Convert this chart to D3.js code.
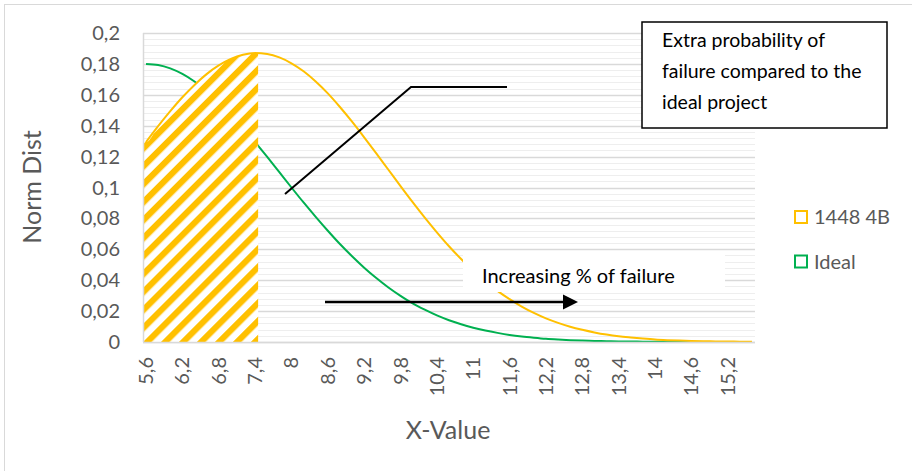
<!DOCTYPE html>
<html>
<head>
<meta charset="utf-8">
<script src="https://cdn.jsdelivr.net/npm/d3@7"></script>
<style>
  html, body { margin: 0; padding: 0; background: #fff; }
  svg { display: block; }
  text { font-family: Lato, "Open Sans", sans-serif; }
</style>
</head>
<body>
<svg id="chart" width="912" height="471"></svg>
<script>
// X values of the sampled curves (step 0.2)
const xValues = d3.range(0, 51).map(i => +(5.6 + i * 0.2).toFixed(1));

// Norm Dist of project "1448 4B"
const series1448 = [
  0.1294, 0.1397, 0.1494, 0.1584, 0.1664, 0.1734, 0.1790, 0.1832, 0.1859, 0.1870,
  0.1864, 0.1842, 0.1804, 0.1752, 0.1686, 0.1609, 0.1521, 0.1426, 0.1325, 0.1221,
  0.1115, 0.1009, 0.0905, 0.0805, 0.0710, 0.0620, 0.0537, 0.0461, 0.0392, 0.0331,
  0.0277, 0.0229, 0.0188, 0.0153, 0.0124, 0.0099, 0.0079, 0.0062, 0.0048, 0.0037,
  0.0029, 0.0022, 0.0016, 0.0012, 0.0009, 0.0007, 0.0005, 0.0004, 0.0003, 0.0002,
  0.0001
];

// Norm Dist of the ideal project (sampled up to 14.6)
const seriesIdeal = [
  0.1800, 0.1793, 0.1771, 0.1735, 0.1686, 0.1626, 0.1555, 0.1474, 0.1387, 0.1294,
  0.1198, 0.1099, 0.1000, 0.0903, 0.0810, 0.0720, 0.0634, 0.0555, 0.0481, 0.0414,
  0.0353, 0.0299, 0.0250, 0.0209, 0.0172, 0.0141, 0.0115, 0.0092, 0.0074, 0.0059,
  0.0046, 0.0036, 0.0028, 0.0021, 0.0016, 0.0012, 0.0009, 0.0007, 0.0005, 0.0004,
  0.0003, 0.0002, 0.0001, 0.0001, 0.0001, 0.0000
];

// Shaded range under the 1448 4B curve
const shadedRange = [5.55, 7.45];

// Axis tick labels
const xTickValues = [5.6, 6.2, 6.8, 7.4, 8, 8.6, 9.2, 9.8, 10.4, 11, 11.6, 12.2, 12.8, 13.4, 14, 14.6, 15.2];
const yTickValues = [0, 0.02, 0.04, 0.06, 0.08, 0.1, 0.12, 0.14, 0.16, 0.18, 0.2];

const seriesNames = ["1448 4B", "Ideal"];
const seriesColors = ["#FFC000", "#00B050"];

const svg = d3.select("#chart");
const plot = { left: 143, right: 755, top: 33, bottom: 342 };

const x = d3.scaleLinear().domain([5.55, 15.65]).range([plot.left, plot.right]);
const y = d3.scaleLinear().domain([0, 0.2]).range([plot.bottom, plot.top]);
const fmt = v => String(v).replace(".", ",");

// outer chart frame
svg.append("rect")
  .attr("x", 4.5).attr("y", 4.5).attr("width", 940).attr("height", 500)
  .attr("fill", "#fff").attr("stroke", "#d9d9d9").attr("stroke-width", 1);

// gridlines: minor every 0.004, major every 0.02
const minor = d3.range(0, 51).map(i => +(i * 0.004).toFixed(3));
svg.append("g").selectAll("line").data(minor).join("line")
  .attr("x1", plot.left).attr("x2", plot.right)
  .attr("y1", d => Math.round(y(d)) + 0.5).attr("y2", d => Math.round(y(d)) + 0.5)
  .attr("stroke", "#eeeeee").attr("stroke-width", 1);
svg.append("g").selectAll("line").data(yTickValues).join("line")
  .attr("x1", plot.left).attr("x2", plot.right)
  .attr("y1", d => Math.round(y(d)) + 0.5).attr("y2", d => Math.round(y(d)) + 0.5)
  .attr("stroke", "#d9d9d9").attr("stroke-width", 1.5);

// hatch pattern
const defs = svg.append("defs");
const pat = defs.append("pattern")
  .attr("id", "hatch").attr("patternUnits", "userSpaceOnUse")
  .attr("width", 12.7).attr("height", 12.7)
  .attr("patternTransform", "rotate(45)");
pat.append("rect").attr("width", 12.7).attr("height", 12.7).attr("fill", "#fff");
pat.append("rect").attr("width", 6.2).attr("height", 12.7).attr("fill", "#FFC000");

defs.append("clipPath").attr("id", "shadeClip")
  .append("rect")
  .attr("x", x(shadedRange[0])).attr("y", plot.top - 10)
  .attr("width", x(shadedRange[1]) - x(shadedRange[0]))
  .attr("height", plot.bottom - plot.top + 10);

const pts1448 = xValues.map((v, i) => [v, series1448[i]]);
const ptsIdeal = seriesIdeal.map((v, i) => [xValues[i], v]);

const line = d3.line().x(d => x(d[0])).y(d => y(d[1])).curve(d3.curveMonotoneX);
const area = d3.area().x(d => x(d[0])).y0(y(0)).y1(d => y(d[1])).curve(d3.curveMonotoneX);

// Ideal curve
svg.append("path").datum(ptsIdeal)
  .attr("d", line).attr("fill", "none")
  .attr("stroke", seriesColors[1]).attr("stroke-width", 2);

// shaded area under 1448 4B
const shadePts = [[shadedRange[0], series1448[0]]].concat(pts1448);
svg.append("path").datum(shadePts)
  .attr("d", area).attr("fill", "url(#hatch)")
  .attr("clip-path", "url(#shadeClip)");

// 1448 4B curve
svg.append("path").datum(pts1448)
  .attr("d", line).attr("fill", "none")
  .attr("stroke", seriesColors[0]).attr("stroke-width", 2);

// axis lines
svg.append("line")
  .attr("x1", plot.left).attr("x2", plot.right)
  .attr("y1", plot.bottom + 0.5).attr("y2", plot.bottom + 0.5)
  .attr("stroke", "#d9d9d9").attr("stroke-width", 1.5);
svg.append("line")
  .attr("x1", plot.left + 0.5).attr("x2", plot.left + 0.5)
  .attr("y1", plot.top).attr("y2", plot.bottom)
  .attr("stroke", "#d9d9d9").attr("stroke-width", 1.5);

// y tick labels
svg.append("g").selectAll("text").data(yTickValues).join("text")
  .attr("x", 120).attr("y", d => y(d)).attr("dy", "0.35em")
  .attr("text-anchor", "end").attr("font-size", 20).attr("fill", "#595959")
  .text(d => fmt(d));

// x tick labels (rotated)
svg.append("g").selectAll("text").data(xTickValues).join("text")
  .attr("transform", d => `translate(${x(d)},357) rotate(-90)`)
  .attr("dy", "0.35em")
  .attr("text-anchor", "end").attr("font-size", 20).attr("fill", "#595959")
  .text(d => fmt(d));

// axis titles
svg.append("text")
  .attr("transform", "translate(32,187) rotate(-90)")
  .attr("dy", "0.35em").attr("text-anchor", "middle")
  .attr("font-size", 25).attr("fill", "#595959").text("Norm Dist");
svg.append("text")
  .attr("x", 448).attr("y", 430).attr("dy", "0.35em").attr("text-anchor", "middle")
  .attr("font-size", 25).attr("fill", "#595959").text("X-Value");

// legend
const legend = svg.append("g").selectAll("g").data(seriesNames).join("g")
  .attr("transform", (d, i) => `translate(794,${210 + i * 44.5})`);
legend.append("rect")
  .attr("x", 1).attr("y", 1).attr("width", 12).attr("height", 12)
  .attr("fill", "#fff").attr("stroke", (d, i) => seriesColors[i]).attr("stroke-width", 2);
legend.append("text")
  .attr("x", 20).attr("y", 7).attr("dy", "0.35em")
  .attr("font-size", 20).attr("fill", "#595959").text(d => d);

// callout line
svg.append("polyline")
  .attr("points", "285,194 411,87 507,87")
  .attr("fill", "none").attr("stroke", "#000").attr("stroke-width", 2);

// callout box
svg.append("rect")
  .attr("x", 642).attr("y", 22).attr("width", 245).attr("height", 106)
  .attr("fill", "#fff").attr("stroke", "#000").attr("stroke-width", 1.5);
const boxLines = ["Extra probability of", "failure compared to the", "ideal project"];
svg.append("g").selectAll("text").data(boxLines).join("text")
  .attr("x", 662).attr("y", (d, i) => 47 + i * 31)
  .attr("font-size", 19.5).attr("fill", "#000").text(d => d);

// "Increasing % of failure" label box (text clipped at the box edge)
defs.append("clipPath").attr("id", "labelClip")
  .append("rect").attr("x", 463).attr("y", 255).attr("width", 262).attr("height", 37);
const lbl = svg.append("g").attr("clip-path", "url(#labelClip)");
lbl.append("rect").attr("x", 463).attr("y", 255).attr("width", 262).attr("height", 37).attr("fill", "#fff");
lbl.append("text").attr("x", 482).attr("y", 283)
  .attr("font-size", 20).attr("fill", "#000").text("Increasing % of failure");

// arrow
svg.append("line")
  .attr("x1", 325).attr("x2", 566).attr("y1", 302).attr("y2", 302)
  .attr("stroke", "#000").attr("stroke-width", 2.5);
svg.append("path")
  .attr("d", "M578,302 L563,294.5 L563,309.5 Z").attr("fill", "#000");
</script>
</body>
</html>
